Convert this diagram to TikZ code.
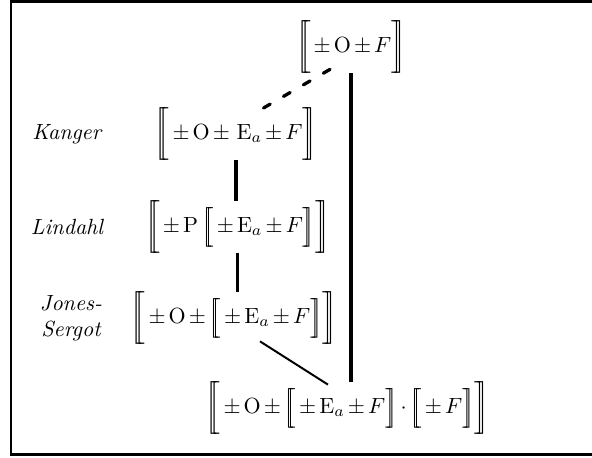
\documentclass[tikz,border=0pt]{standalone}
\usepackage{amsmath}
\usepackage{tikz}
\usetikzlibrary{positioning,calc}

% double brackets
\newcommand{\lsem}[1]{#1[\mkern-7mu#1[}
\newcommand{\rsem}[1]{#1]\mkern-7mu#1]}
\medmuskip=2.5mu

\begin{document}
\begin{tikzpicture}[
    sem/.style={inner sep=0pt, outer sep=0pt},
    logic/.style={font=\itshape, align=center},
    link/.style={line width=1.5pt},
    thinlink/.style={line width=0.9pt},
    dashlink/.style={line width=1.5pt, dash pattern=on 3.5pt off 7pt, line cap=round}
]
    \useasboundingbox (0,0) rectangle (9.472,-7.328);
    \begin{scope}
    \clip (0,0) rectangle (9.472,-7.328);
    % Frame
    \draw[line width=1.2pt] (0.176,-0.021) rectangle (9.62,-7.275);
    \end{scope}

    % Systems
    \node[sem] (top) at (5.616,-0.752) {$\lsem\bigg\pm\mathrm{O}\pm F\rsem\bigg$};
    \node[sem] (kanger) at (3.776,-2.144) {$\lsem\bigg\pm\mathrm{O}\pm\,\mathrm{E}_a\pm F\rsem\bigg$};
    \node[sem] (lindahl) at (3.80,-3.632) {$\lsem\bigg\pm\mathrm{P}\,\lsem\Big\pm\mathrm{E}_a\pm F\rsem\Big\rsem\bigg$};
    \node[sem] (jones) at (3.744,-5.088) {$\lsem\bigg\pm\mathrm{O}\pm\lsem\Big\pm\mathrm{E}_a\pm F\rsem\Big\rsem\bigg$};
    \node[sem] (bottom) at (5.56,-6.528) {$\lsem\bigg\pm\mathrm{O}\pm\lsem\Big\pm\mathrm{E}_a\pm F\rsem\Big\cdot\lsem\Big\pm F\rsem\Big\rsem\bigg$};

    % Names
    \node[logic] (kname) at (1.067,-2.144) {Kanger};
    \node[logic] (lname) at (1.072,-3.632) {Lindahl};
    \node[logic] (jname) at (1.136,-5.088) {Jones-\\Sergot};

    % Connections
    \draw[dashlink] ([xshift=-0.336cm, yshift=0.064cm]top.south) -- ([xshift=0.368cm, yshift=-0.048cm]kanger.north);
    \draw[link] (kanger.south) -- (kanger.south |- lindahl.north);
    \draw[link] (lindahl.south) -- (lindahl.south |- jones.north);
    \draw[link] (top.south) -- (top.south |- bottom.north);
    \draw[thinlink] ([xshift=0.416cm, yshift=0.048cm]jones.south) -- ([xshift=-0.312cm, yshift=-0.048cm]bottom.north);
\end{tikzpicture}
\end{document}
